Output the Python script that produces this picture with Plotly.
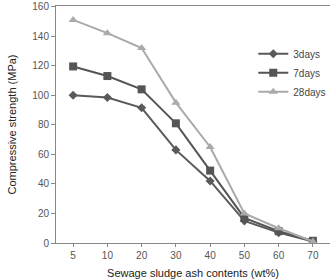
import plotly.graph_objects as go

categories = ["5", "10", "20", "30", "40", "50", "60", "70"]
days3 = [100, 98.5, 91.5, 63, 42, 15, 7, 1]
days7 = [119.5, 113, 104, 81, 49, 17, 8, 1.5]
days28 = [151, 142, 132, 95, 65, 20, 10, 1]
y_ticks = [0, 20, 40, 60, 80, 100, 120, 140, 160]

fig = go.Figure()
fig.add_trace(go.Scatter(x=categories, y=days3, name="3days", mode="lines+markers",
                         line=dict(color="#5a5a5a", width=2),
                         marker=dict(symbol="diamond", size=7, color="#5a5a5a")))
fig.add_trace(go.Scatter(x=categories, y=days7, name="7days", mode="lines+markers",
                         line=dict(color="#555555", width=2),
                         marker=dict(symbol="square", size=8, color="#555555")))
fig.add_trace(go.Scatter(x=categories, y=days28, name="28days", mode="lines+markers",
                         line=dict(color="#aaaaaa", width=2),
                         marker=dict(symbol="triangle-up", size=8, color="#aaaaaa")))

fig.update_layout(
    width=332, height=279,
    margin=dict(l=56, r=1, t=5, b=35),
    paper_bgcolor="white", plot_bgcolor="white",
    font=dict(family="Liberation Sans, Arial, sans-serif", size=10, color="#555555"),
    showlegend=True,
    legend=dict(x=0.72, y=0.86, xanchor="left", yanchor="top",
                font=dict(size=10, color="#444444"), bgcolor="rgba(0,0,0,0)",
                itemwidth=30, tracegroupgap=0),
    xaxis=dict(type="category", range=[-0.5, 7.5], showline=True, linecolor="#888888",
               linewidth=1, mirror=True, ticks="outside", ticklen=3, tickcolor="#888888",
               showgrid=False, zeroline=False,
               title=dict(text="Sewage sludge ash contents (wt%)", standoff=9,
                          font=dict(size=11, color="#222222"))),
    yaxis=dict(range=[0, 160.4], tickvals=y_ticks, showline=True, linecolor="#888888",
               linewidth=1, ticks="outside", ticklen=4, tickcolor="#888888",
               showgrid=False, zeroline=False,
               title=dict(text="Compressive strength (MPa)", standoff=13,
                          font=dict(size=11, color="#222222"))),
)

fig.write_html("out.html")
